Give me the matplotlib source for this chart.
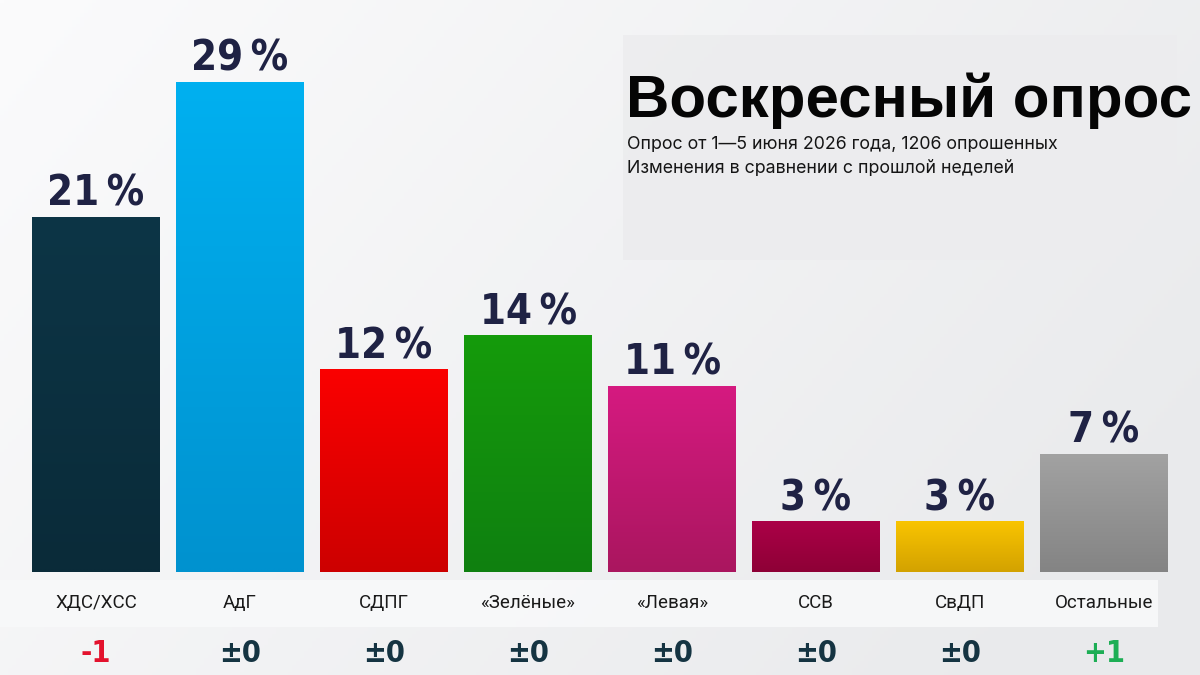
import numpy as np
import matplotlib
matplotlib.use("Agg")
import matplotlib.pyplot as plt
from matplotlib import font_manager
from matplotlib.patches import Rectangle
from matplotlib.colors import to_rgb
import matplotlib.transforms as mtransforms

# ---------------- data ----------------
parties = ["ХДС/ХСС", "АдГ", "СДПГ", "«Зелёные»", "«Левая»", "ССВ", "СвДП", "Остальные"]
values = [21, 29, 12, 14, 11, 3, 3, 7]
changes = ["-1", "±0", "±0", "±0", "±0", "±0", "±0", "+1"]
title = "Воскресный опрос"
subtitle1 = "Опрос от 1—5 июня 2026 года, 1206 опрошенных"
subtitle2 = "Изменения в сравнении с прошлой неделей"

# styles
top_colors = ["#0d3546", "#00b0f0", "#fa0000", "#159b0b", "#d51a80", "#ab0047", "#f9c400", "#a2a2a2"]
bot_colors = ["#0a2b39", "#0092cf", "#cd0000", "#0f8010", "#aa165f", "#8e0036", "#d3a200", "#848484"]
change_colors = {"-": "#e3122d", "±": "#153442", "+": "#1dae55"}


def have(name):
    try:
        font_manager.findfont(font_manager.FontProperties(family=name), fallback_to_default=False)
        return True
    except Exception:
        return False


sans = "Roboto" if have("Roboto") else "DejaVu Sans"
head = "Liberation Sans" if have("Liberation Sans") else "DejaVu Sans"
subf = "Inter" if have("Inter") else sans

W, H = 1200, 675
fig = plt.figure(figsize=(W / 100, H / 100), dpi=100)

# background gradient
bg = fig.add_axes([0, 0, 1, 1], zorder=0)
bg.set_axis_off()
xx = np.linspace(0, 1, 300)[None, :]
yy = np.linspace(0, 1, 200)[:, None]
c0 = np.array(to_rgb("#fbfbfc"))
c1 = np.array(to_rgb("#e9eaec"))
t = np.clip(0.75 * xx + 0.35 * yy, 0, 1)[..., None]
img = c0 * (1 - t) + c1 * t
bg.imshow(img, extent=[0, 1, 0, 1], aspect="auto", origin="upper")
bg.set_xlim(0, 1)
bg.set_ylim(0, 1)

# title box
bg.add_patch(Rectangle((623 / W, 1 - 260 / H), (1177 - 623) / W, (260 - 35) / H,
                       facecolor="#ececee", edgecolor="none", alpha=0.85, zorder=2))
# label strip
bg.add_patch(Rectangle((0, 1 - 627 / H), 1158 / W, (627 - 580) / H,
                       facecolor="#f8f9fa", edgecolor="none", alpha=0.9, zorder=2))

# main axes
ax = fig.add_axes([24 / W, 103 / H, 1152 / W, 507 / H], zorder=1)
ax.patch.set_alpha(0)
ax.set_xlim(-0.5, 7.5)
ax.set_ylim(0, 30)
ax.set_axis_off()

x = np.arange(len(parties))
bars = ax.bar(x, values, width=128 / 144, color=top_colors, edgecolor="none", zorder=2)

# vertical gradient fill clipped to each bar
for b, ct, cb in zip(bars, top_colors, bot_colors):
    x0, y0 = b.get_x(), b.get_y()
    w, h = b.get_width(), b.get_height()
    g = np.linspace(0, 1, 64)[:, None, None]
    grad = np.array(to_rgb(ct)) * (1 - g) + np.array(to_rgb(cb)) * g
    grad = np.repeat(grad, 2, axis=1)
    im = ax.imshow(grad, extent=[x0, x0 + w, y0, y0 + h], aspect="auto",
                   origin="upper", zorder=3, interpolation="bilinear")
    im.set_clip_path(b)

# value labels
for xi, v in zip(x, values):
    ax.annotate(f"{v}\u2009%", (xi, v), xytext=(0, 8), textcoords="offset points",
                ha="center", va="baseline", fontsize=30, fontweight="bold",
                fontstretch="condensed", family="DejaVu Sans",
                color="#1f2244", zorder=4)

trans = mtransforms.blended_transform_factory(ax.transData, fig.transFigure)
for xi, name, ch in zip(x, parties, changes):
    ax.text(xi, 1 - 603 / H, name, transform=trans, ha="center", va="center",
            fontsize=13.5, family=[sans, "DejaVu Sans"], color="#1a1a1a", zorder=4)
    ax.text(xi, 1 - 653 / H, ch, transform=trans, ha="center", va="center",
            fontsize=22, fontweight="bold", fontstretch="condensed", family="DejaVu Sans",
            color=change_colors[ch[0]], zorder=4)

# title and subtitles
fig.text(626 / W, 1 - 117 / H, title, ha="left", va="baseline", fontsize=43.2,
         fontweight="bold", family=[head, "DejaVu Sans"], color="#050505", zorder=5)
fig.text(627 / W, 1 - 145 / H, subtitle1, ha="left", va="center", fontsize=12.8,
         family=[subf, "DejaVu Sans"], color="#151515", zorder=5)
fig.text(627 / W, 1 - 169 / H, subtitle2, ha="left", va="center", fontsize=12.8,
         family=[subf, "DejaVu Sans"], color="#151515", zorder=5)

fig.savefig("out.png", dpi=100)
